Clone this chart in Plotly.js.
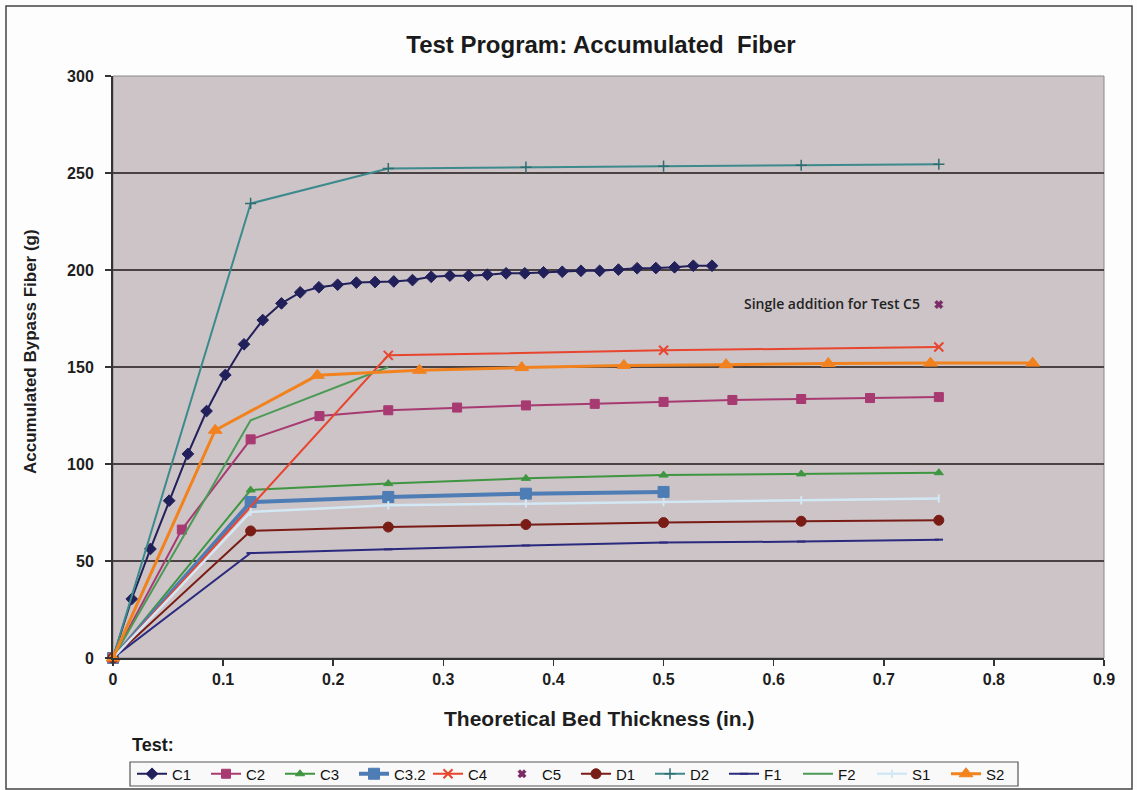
<!DOCTYPE html>
<html>
<head>
<meta charset="utf-8">
<script src="https://cdn.plot.ly/plotly-3.0.1.min.js"></script>
<style>
html,body{margin:0;padding:0;background:#ffffff;}
#chart{width:1137px;height:790px;}
</style>
</head>
<body>
<div id="chart"></div>
<script>
// ---- Data ----
var c1X = [0,0.017,0.034,0.051,0.068,0.085,0.102,0.119,0.136,0.153,0.17,0.187,0.204,0.221,0.238,0.255,0.272,0.289,0.306,0.323,0.34,0.357,0.374,0.391,0.408,0.425,0.442,0.459,0.476,0.493,0.51,0.527,0.544];
var c1Y = [0,30.4,56.2,81.1,105.2,127.3,145.9,161.7,174.2,182.8,188.5,191.1,192.4,193.5,193.8,194.1,194.8,196.5,197.1,197.1,197.6,198.3,198.3,198.8,199.1,199.6,199.6,200.2,200.9,201.0,201.4,202.2,202.2];

var c2X = [0,0.0625,0.125,0.1875,0.25,0.3125,0.375,0.4375,0.5,0.5625,0.625,0.6875,0.75];
var c2Y = [0,66.2,112.7,124.7,127.7,129.1,130.2,131,132,133,133.5,134,134.5];

var c3X = [0,0.125,0.25,0.375,0.5,0.625,0.75];
var c3Y = [0,86.6,89.9,92.6,94.3,94.9,95.5];

var c32X = [0,0.125,0.25,0.375,0.5];
var c32Y = [0,80.4,83.0,84.7,85.6];

var c4X = [0,0.25,0.5,0.75];
var c4Y = [0,156.0,158.6,160.3];

var c5X = [0.75];
var c5Y = [182.2];

var d1X = [0,0.125,0.25,0.375,0.5,0.625,0.75];
var d1Y = [0,65.5,67.5,68.8,69.8,70.5,71.0];

var d2X = [0,0.125,0.25,0.375,0.5,0.625,0.75];
var d2Y = [0,234.3,252.3,253.0,253.5,254.0,254.5];

var f1X = [0,0.125,0.25,0.375,0.5,0.625,0.75];
var f1Y = [0,54.1,56.0,58.0,59.5,60.0,61.0];

var f2X = [0,0.125,0.25];
var f2Y = [0,122.5,150.0];

var s1X = [0,0.125,0.25,0.375,0.5,0.625,0.75];
var s1Y = [0,75.3,78.7,79.7,80.4,81.3,82.2];

var s2X = [0,0.0928,0.1856,0.2784,0.3712,0.464,0.5568,0.6496,0.7424,0.8352];
var s2Y = [0,117.4,145.7,148.3,149.7,150.8,151.2,151.8,152.0,152.0];

var xTickVals = [0,0.1,0.2,0.3,0.4,0.5,0.6,0.7,0.8,0.9];
var xTickText = ["0","0.1","0.2","0.3","0.4","0.5","0.6","0.7","0.8","0.9"];
var yTickVals = [0,50,100,150,200,250,300];
var yTickText = ["0","50","100","150","200","250","300"];

var chartTitle = "Test Program: Accumulated  Fiber";
var xTitle = "Theoretical Bed Thickness (in.)";
var yTitle = "Accumulated Bypass Fiber (g)";
var legendLabel = "Test:";
var noteText = "Single addition for Test C5";

// ---- Traces ----
function tr(name, x, y, color, lw, sym, msize, mode, extra){
  var t = {type:'scatter', name:name, x:x, y:y, mode:mode||'lines+markers',
    line:{color:color, width:lw},
    marker:{symbol:sym, size:msize, color:color, line:{color:color, width:1}},
    cliponaxis:false};
  if(extra){ for(var k in extra){ t[k]=extra[k]; } }
  return t;
}

var traces = [
  tr('C1', c1X, c1Y, '#22205a', 2, 'diamond', 9),
  tr('C2', c2X, c2Y, '#a83a72', 2, 'square', 9),
  tr('C3', c3X, c3Y, '#3f9640', 2, 'triangle-up', 8),
  tr('C3.2', c32X, c32Y, '#4e7db5', 4, 'square', 11),
  tr('C4', c4X, c4Y, '#e8452f', 2, 'x-thin-open', 9, null, {marker:{symbol:'x-thin-open', size:9, color:'#e8452f', line:{color:'#e8452f', width:2}}}),
  tr('C5', c5X, c5Y, '#7a2a66', 2, 'x', 7, 'markers'),
  tr('D1', d1X, d1Y, '#7a1c16', 2, 'circle', 10),
  tr('D2', d2X, d2Y, '#3d8a8c', 2, 'cross-thin-open', 8, null, {marker:{symbol:'cross-thin-open', size:8, color:'#2f6e70', line:{color:'#2f6e70', width:1.5}}}),
  tr('F1', f1X, f1Y, '#2c2a7e', 2, 'line-ew-open', 6, null, {marker:{symbol:'line-ew-open', size:6, color:'#2c2a7e', line:{color:'#2c2a7e', width:2}}}),
  tr('F2', f2X, f2Y, '#4b9a55', 2, 'circle', 1, 'lines'),
  tr('S1', s1X, s1Y, '#d3e8f5', 2.5, 'line-ns-open', 6, null, {marker:{symbol:'line-ns-open', size:6, color:'#d3e8f5', line:{color:'#d3e8f5', width:2}}}),
  tr('S2', s2X, s2Y, '#f2821e', 3, 'triangle-up', 12)
];

// ---- Layout ----
var L = 113, R = 33, T = 76, B = 132;
var pw = 1137 - L - R, ph = 790 - T - B;
function px2x(p){ return (p - L)/pw; }
function py2y(p){ return (790 - B - p)/ph; }

var layout = {
  width:1137, height:790,
  margin:{l:L, r:R, t:T, b:B, pad:0, autoexpand:false},
  paper_bgcolor:'#fdfdfd',
  plot_bgcolor:'#ccc4c7',
  font:{family:'Liberation Sans, Arial, sans-serif', color:'#1e1e1e'},
  showlegend:true,
  title:{text:'<b>'+chartTitle+'</b>', font:{size:24, family:'Liberation Sans, Arial, sans-serif', color:'#1a1a1a'},
    x:px2x(601), xref:'paper', xanchor:'center', y:1-45/790, yref:'container', yanchor:'middle'},
  xaxis:{range:[0,0.9], tickvals:xTickVals, ticktext:xTickText, showgrid:false, zeroline:false,
    ticks:'outside', ticklen:6, tickwidth:1.5, tickcolor:'#333',
    showline:true, linecolor:'#333', linewidth:2,
    tickfont:{size:16, family:'Liberation Sans, Arial, sans-serif', color:'#1e1e1e', weight:'bold'},
    title:{text:''}},
  yaxis:{range:[0,300], tickvals:yTickVals, ticktext:yTickText, showgrid:true, gridcolor:'#4a4242', gridwidth:2,
    zeroline:false, ticks:'outside', ticklen:6, tickwidth:1.5, tickcolor:'#333',
    showline:true, linecolor:'#333', linewidth:2, ticklabelstandoff:8,
    tickfont:{size:16, family:'Liberation Sans, Arial, sans-serif', color:'#1e1e1e', weight:'bold'},
    title:{text:''}},
  legend:{orientation:'h', x:px2x(132), xanchor:'left', y:py2y(774), yanchor:'middle',
    bgcolor:'rgba(0,0,0,0)', borderwidth:0,
    font:{size:15, family:'Liberation Sans, Arial, sans-serif', color:'#111'},
    itemwidth:30, entrywidth:29, entrywidthmode:'pixels', tracegroupgap:0, traceorder:'normal'},
  annotations:[
    {xref:'paper', yref:'paper', x:px2x(599), y:py2y(718), xanchor:'center', yanchor:'middle',
     text:'<b>'+xTitle+'</b>', showarrow:false, font:{size:21, color:'#1e1e1e'}},
    {xref:'paper', yref:'paper', x:px2x(30), y:py2y(352), xanchor:'center', yanchor:'middle', textangle:-90,
     text:'<b>'+yTitle+'</b>', showarrow:false, font:{size:17, color:'#1e1e1e'}},
    {xref:'paper', yref:'paper', x:px2x(130), y:py2y(745), xanchor:'left', yanchor:'middle',
     text:'<b>'+legendLabel+'</b>', showarrow:false, font:{size:18, color:'#1a1a1a'}},
    {xref:'x', yref:'y', x:0.735, y:182.5, xanchor:'right', yanchor:'middle',
     text:noteText, showarrow:false, font:{size:14, family:'Open Sans, sans-serif', color:'#222', weight:600}}
  ],
  shapes:[
    {type:'rect', xref:'paper', yref:'paper', x0:0, x1:1, y0:0, y1:1, line:{color:'#8a8a8a', width:1}, layer:'below'},
    {type:'rect', xref:'paper', yref:'paper', x0:px2x(6), x1:px2x(1132), y0:py2y(6), y1:py2y(789), line:{color:'#444', width:1.5}, layer:'below'},
    {type:'rect', xref:'paper', yref:'paper', x0:px2x(130), x1:px2x(1018), y0:py2y(762), y1:py2y(786), fillcolor:'#f9f9f9', line:{color:'#555', width:1.2}, layer:'above'}
  ]
};

Plotly.newPlot('chart', traces, layout, {displayModeBar:false, staticPlot:true});
</script>
</body>
</html>
